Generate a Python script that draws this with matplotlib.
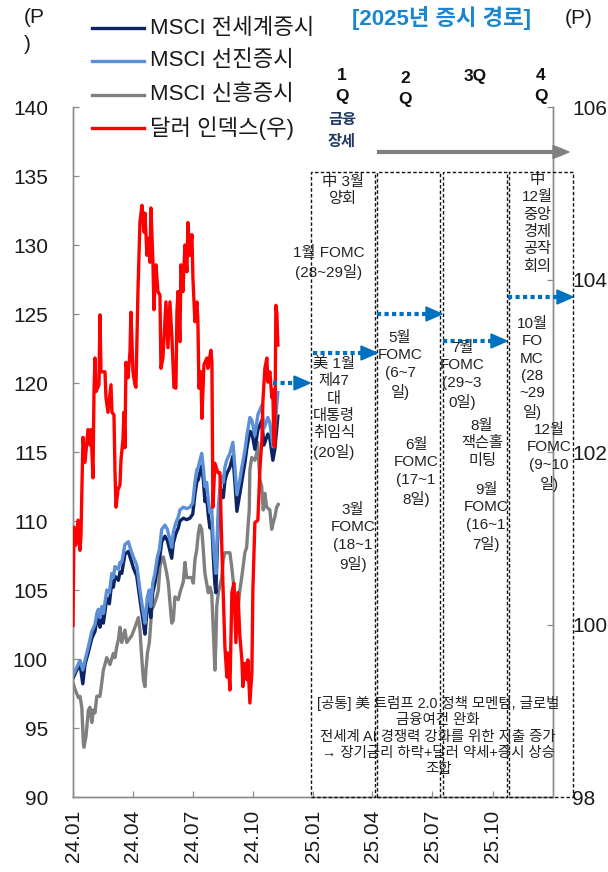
import matplotlib
matplotlib.use("Agg")
import matplotlib.pyplot as plt
from matplotlib.lines import Line2D
from matplotlib.patches import Rectangle, Polygon
import numpy as np
import pandas as pd

plt.rcParams['font.family'] = ['Liberation Sans', 'Noto Sans CJK KR']

# ---------------------------------------------------------------- data
# time axis: months elapsed since 2024-01-01
START = pd.Timestamp('2024-01-01')
END = pd.Timestamp('2026-01-01')

tick_dates = ['2024-01-01', '2024-04-01', '2024-07-01', '2024-10-01',
              '2025-01-01', '2025-04-01', '2025-07-01', '2025-10-01']
tick_labels = ['24.01', '24.04', '24.07', '24.10', '25.01', '25.04', '25.07', '25.10']

left_ticks = [90, 95, 100, 105, 110, 115, 120, 125, 130, 135, 140]
right_ticks = [98, 100, 102, 104, 106]

# MSCI developed / all-country share one time grid
msci_t = [0.00, 0.19, 0.35, 0.49, 0.60, 0.77, 0.94, 1.10, 1.19, 1.27, 1.35, 1.44, 1.52,
          1.69, 1.82, 1.94, 2.02, 2.10, 2.27, 2.35, 2.44, 2.60, 2.77, 2.85, 2.94, 3.02,
          3.19, 3.35, 3.52, 3.60, 3.72, 3.82, 3.89, 3.99, 4.10, 4.22, 4.32, 4.44, 4.60,
          4.72, 4.82, 4.94, 5.02, 5.15, 5.27, 5.35, 5.52, 5.69, 5.85, 5.99, 6.10, 6.19,
          6.27, 6.35, 6.44, 6.52, 6.60, 6.69, 6.77, 6.85, 6.94, 7.02, 7.10, 7.15, 7.19,
          7.27, 7.35, 7.44, 7.52, 7.60, 7.69, 7.85, 8.00, 8.10, 8.20, 8.35, 8.45, 8.60,
          8.70, 8.85, 8.95, 9.10, 9.25, 9.45, 9.55, 9.75, 9.85, 10.00, 10.10, 10.25]

msci_dev = [98.8, 99.4, 99.9, 99.2, 99.9, 100.9, 102.0, 102.5, 103.3, 103.6, 103.0, 103.8, 103.3,
            105.0, 104.8, 106.2, 105.9, 106.7, 106.5, 107.0, 107.0, 108.3, 108.5, 108.1, 107.7, 107.4,
            106.8, 105.0, 103.3, 102.6, 104.5, 105.0, 103.8, 105.5, 106.2, 107.4, 107.9, 109.4, 109.7,
            109.4, 108.8, 108.1, 109.2, 109.9, 110.3, 110.8, 111.0, 110.9, 111.0, 111.3, 112.8, 113.7,
            113.9, 114.4, 114.9, 113.9, 112.5, 112.8, 111.5, 110.6, 110.9, 108.4, 107.0, 106.2, 107.9,
            111.0, 112.3, 113.2, 112.8, 113.9, 114.4, 114.9, 115.7, 113.9, 111.9, 113.0, 113.9, 115.1,
            116.2, 117.5, 117.3, 116.2, 117.7, 118.4, 116.7, 117.5, 117.1, 115.4, 116.7, 119.3]

msci_acwi = [98.6, 99.2, 99.6, 98.2, 99.6, 100.5, 101.5, 102.0, 102.8, 103.0, 102.3, 103.2, 102.6,
             104.4, 104.0, 105.6, 105.2, 106.0, 105.7, 106.3, 106.2, 107.6, 107.8, 107.4, 107.0, 106.6,
             106.0, 104.3, 102.6, 101.8, 103.7, 104.3, 103.0, 104.8, 105.5, 106.6, 107.1, 108.5, 108.9,
             108.6, 108.0, 107.3, 108.4, 109.1, 109.5, 110.0, 110.2, 110.1, 110.2, 110.5, 111.9, 112.8,
             113.0, 113.5, 114.0, 113.0, 111.4, 111.7, 110.4, 109.5, 109.9, 107.4, 105.4, 104.8, 106.8,
             110.0, 111.2, 112.2, 111.7, 112.9, 113.4, 113.9, 114.7, 112.8, 110.7, 112.0, 112.9, 114.2,
             115.3, 116.5, 116.4, 115.2, 116.6, 117.3, 115.5, 116.3, 116.0, 114.4, 115.2, 117.6]

msci_em_t = [0.00, 0.10, 0.27, 0.35, 0.44, 0.52, 0.55, 0.65, 0.77, 0.85, 0.94, 1.02, 1.10,
             1.19, 1.35, 1.44, 1.52, 1.69, 1.85, 2.02, 2.10, 2.19, 2.27, 2.35, 2.44, 2.60,
             2.69, 2.94, 3.10, 3.27, 3.35, 3.44, 3.52, 3.60, 3.65, 3.72, 3.82, 3.94, 4.02,
             4.19, 4.27, 4.35, 4.44, 4.52, 4.69, 4.77, 4.85, 4.94, 5.02, 5.10, 5.27, 5.35,
             5.52, 5.60, 5.69, 5.94, 6.02, 6.10, 6.19, 6.27, 6.35, 6.44, 6.52, 6.60, 6.77,
             6.85, 6.94, 7.02, 7.10, 7.15, 7.19, 7.27, 7.44, 7.52, 7.60, 7.85, 7.94, 8.10,
             8.19, 8.27, 8.35, 8.44, 8.60, 8.69, 8.77, 8.82, 8.85, 8.94, 9.10, 9.19, 9.23,
             9.35, 9.44, 9.52, 9.60, 9.69, 9.85, 9.94, 10.02, 10.10, 10.19, 10.27]

msci_em = [98.3, 97.8, 97.2, 97.3, 96.5, 93.9, 93.6, 94.4, 96.3, 96.5, 95.4, 96.3, 96.1,
           97.3, 97.3, 98.3, 99.2, 100.1, 99.6, 100.4, 100.1, 100.9, 101.4, 102.3, 101.2, 102.1,
           101.2, 101.7, 102.3, 103.0, 102.1, 100.1, 98.5, 98.0, 99.2, 100.4, 101.2, 103.6, 103.8,
           104.5, 105.0, 106.7, 107.2, 107.4, 106.2, 105.5, 104.1, 102.6, 102.8, 104.5, 104.3, 104.8,
           105.6, 107.0, 105.9, 105.9, 105.5, 107.2, 107.9, 109.1, 109.7, 109.4, 107.9, 106.2, 104.8,
           105.2, 104.8, 102.1, 99.2, 101.2, 103.8, 104.8, 105.9, 107.2, 107.7, 107.7, 106.7, 104.5,
           103.0, 103.8, 105.0, 105.9, 107.7, 108.1, 109.9, 110.8, 113.7, 114.6, 114.4, 114.9, 115.7,
           113.0, 112.5, 110.8, 112.0, 111.0, 110.8, 109.4, 109.9, 110.3, 111.0, 111.2]

dollar_t = [0.00, 0.05, 0.15, 0.25, 0.35, 0.40, 0.45, 0.50, 0.60, 0.75, 0.85, 0.90, 1.00,
            1.05, 1.10, 1.15, 1.30, 1.35, 1.40, 1.60, 1.65, 1.75, 1.90, 1.95, 2.05, 2.10,
            2.15, 2.25, 2.35, 2.40, 2.50, 2.55, 2.60, 2.65, 2.75, 2.85, 2.90, 3.00, 3.10,
            3.15, 3.25, 3.35, 3.45, 3.55, 3.60, 3.70, 3.80, 3.85, 3.90, 4.00, 4.05, 4.15,
            4.25, 4.35, 4.40, 4.50, 4.65, 4.75, 4.85, 4.95, 5.05, 5.15, 5.20, 5.25, 5.35,
            5.40, 5.50, 5.60, 5.70, 5.75, 5.85, 5.95, 6.00, 6.10, 6.20, 6.25, 6.30, 6.40,
            6.45, 6.55, 6.70, 6.75, 6.90, 6.95, 7.00, 7.10, 7.25, 7.35, 7.45, 7.60, 7.70,
            7.75, 7.85, 7.95, 8.05, 8.15, 8.25, 8.35, 8.45, 8.50, 8.60, 8.70, 8.75, 8.85,
            8.95, 9.00, 9.10, 9.25, 9.35, 9.45, 9.50, 9.60, 9.70, 9.75, 9.85, 9.95, 10.00,
            10.05, 10.10, 10.15, 10.20, 10.25]

dollar_idx = [99.99, 101.13, 100.92, 101.21, 100.86, 101.04, 101.62, 102.17, 101.88, 102.26, 102.08, 102.26, 101.70,
              102.70, 103.09, 102.70, 102.78, 103.59, 102.93, 102.93, 102.63, 102.46, 102.78, 102.46, 102.43, 101.79,
              101.36, 101.56, 101.62, 101.91, 102.14, 102.46, 102.05, 103.04, 102.86, 103.16, 103.62, 102.93, 102.78,
              102.75, 103.86, 104.67, 104.86, 104.55, 104.77, 104.28, 104.48, 104.20, 104.83, 104.20, 103.65, 104.17,
              103.86, 103.82, 102.97, 103.09, 103.74, 103.21, 103.74, 103.32, 102.75, 102.74, 103.62, 103.86, 103.28,
              104.17, 103.86, 104.40, 104.09, 104.66, 104.28, 104.52, 104.02, 103.51, 103.74, 103.51, 102.74, 102.93,
              102.39, 103.01, 103.09, 102.97, 103.18, 103.04, 101.36, 101.87, 101.76, 101.76, 100.86, 99.74, 99.39,
              99.67, 99.24, 100.37, 100.48, 99.79, 100.37, 99.86, 99.59, 99.28, 99.55, 99.36, 99.59, 99.09,
              99.44, 100.40, 101.18, 101.21, 101.79, 102.14, 102.58, 102.97, 103.09, 102.81, 102.93, 102.63, 102.72,
              102.08, 102.06, 103.70, 103.61, 103.24]

series_names = ['MSCI 전세계증시', 'MSCI 선진증시', 'MSCI 신흥증시', '달러 인덱스(우)']
series_colors = ['#0d2463', '#5b8fd8', '#7f7f7f', '#ff0000']

quarter_labels = ['1\nQ', '2\nQ', '3Q', '4\nQ']
regime_label = '금융\n장세'
chart_title = '[2025년 증시 경로]'

q1_notes = ['中 3월\n양회', '1월 FOMC\n(28~29일)', '美 1월\n제47\n대\n대통령\n취임식\n(20일)',
            '3월\nFOMC\n(18~1\n9일)']
q2_notes = ['5월\nFOMC\n(6~7\n일)', '6월\nFOMC\n(17~1\n8일)']
q3_notes = ['7월\nFOMC\n(29~3\n0일)', '8월\n잭슨홀\n미팅', '9월\nFOMC\n(16~1\n7일)']
q4_notes = ['中\n12월\n중앙\n경제\n공작\n회의', '10월\nFO\nMC\n(28\n~29\n일)', '12월\nFOMC\n(9~10\n일)']
common_note = ('[공통] 美 트럼프 2.0 정책 모멘텀, 글로벌\n금융여건 완화\n'
               '전세계 AI 경쟁력 강화를 위한 지출 증가\n'
               '→ 장기금리 하락+달러 약세+증시 상승\n조합')


def to_dates(months):
    return START + pd.to_timedelta(np.asarray(months) * 30.4375, unit='D')


# ---------------------------------------------------------------- figure
W, H = 608, 872
fig = plt.figure(figsize=(W / 100, H / 100), dpi=100)
ax = fig.add_axes([73 / W, 75 / H, 480 / W, 690 / H])
ax2 = ax.twinx()

ax.plot(to_dates(msci_em_t), msci_em, color=series_colors[2], lw=2.4, zorder=2)
ax.plot(to_dates(msci_t), msci_acwi, color=series_colors[0], lw=2.4, zorder=3)
ax.plot(to_dates(msci_t), msci_dev, color=series_colors[1], lw=2.4, zorder=4)
ax2.plot(to_dates(dollar_t), dollar_idx, color=series_colors[3], lw=2.4, zorder=5)

ax.set_xlim(START, END)
ax.set_ylim(left_ticks[0], left_ticks[-1])
ax2.set_ylim(right_ticks[0], right_ticks[-1])
ax.set_yticks(left_ticks)
ax2.set_yticks(right_ticks)
ax.set_xticks(pd.to_datetime(tick_dates))
ax.set_xticklabels(tick_labels, rotation=90)

spine_c = '#8c8c8c'
for a in (ax, ax2):
    a.spines['top'].set_visible(False)
    for s in ('left', 'right', 'bottom'):
        a.spines[s].set_color(spine_c)
        a.spines[s].set_linewidth(1.0)
ax.tick_params(axis='y', direction='in', length=4.5, width=0.9, color=spine_c,
               labelsize=15, pad=18, labelcolor='#1a1a1a')
ax.tick_params(axis='x', direction='in', length=4.5, width=0.9, color=spine_c,
               labelsize=15, pad=9, labelcolor='#1a1a1a')
ax2.tick_params(axis='y', direction='in', length=4.5, width=0.9, color=spine_c,
                labelsize=15, pad=14, labelcolor='#1a1a1a')

T = ax2.transAxes


def fx(px):
    return (px - 73) / 480


def fy(py):
    return (797 - py) / 690


# quarter boxes (dashed)
box_edges = [(311, 375), (377, 440), (443, 507), (509, 573)]
for x0, x1 in box_edges:
    ax2.add_patch(Rectangle((fx(x0), 0), fx(x1) - fx(x0), fy(172), transform=T,
                            fill=False, ec='#111111', lw=1.0, ls=(0, (2.5, 1.6)),
                            clip_on=False, zorder=6))

# gray trend arrow
ax2.plot([fx(377), fx(555)], [fy(152), fy(152)], transform=T, color='#808080',
         lw=3.0, solid_capstyle='butt', clip_on=False, zorder=7)
ax2.add_patch(Polygon([(fx(569), fy(152)), (fx(553), fy(145.5)), (fx(553), fy(158.5))],
                      closed=True, transform=T, color='#808080', clip_on=False, zorder=7))

# blue dotted path arrows
blue = '#0070c0'
arrow_rows = [(273, 310, 383), (313, 377, 353), (377, 442, 314), (443, 507, 341), (508, 573, 297)]
for xa, xb, yy in arrow_rows:
    ax2.plot([fx(xa), fx(xb - 15)], [fy(yy), fy(yy)], transform=T, color=blue, lw=3.0,
             ls=(0, (1, 0.8)), dash_capstyle='butt', clip_on=False, zorder=8)
    ax2.add_patch(Polygon([(fx(xb), fy(yy)), (fx(xb - 16), fy(yy - 7)), (fx(xb - 16), fy(yy + 7))],
                          closed=True, transform=T, color=blue, clip_on=False, zorder=8))

# quarter headers
q_pos = [(342, 86), (405, 89), (475, 76), (541, 86)]
for lab, (px, py) in zip(quarter_labels, q_pos):
    ax2.text(fx(px), fy(py), lab, transform=T, ha='center', va='center', fontsize=12.5,
             fontweight='bold', linespacing=1.45, color='#111111', clip_on=False)
ax2.text(fx(342), fy(131), regime_label, transform=T, ha='center', va='center', fontsize=11,
         fontweight='bold', linespacing=1.65, color='#1f3864', clip_on=False)

# event notes
note_fs = 11
note_ls = 1.3
note_pos = [(q1_notes, [(343, 175), (329, 246), (334, 357), (353, 503)]),
            (q2_notes, [(400, 331), (416, 438)]),
            (q3_notes, [(462, 341), (482, 419), (486, 483)]),
            (q4_notes, [(537, 173), (532, 317), (549, 423)])]
for notes, positions in note_pos:
    for txt, (px, py) in zip(notes, positions):
        ax2.text(fx(px), fy(py), txt, transform=T, ha='center', va='top', fontsize=note_fs,
                 linespacing=note_ls, color='#222222', multialignment='center',
                 clip_on=False, zorder=9)
ax2.text(fx(438), fy(696), common_note, transform=T, ha='center', va='top', fontsize=10.4,
         linespacing=1.2, color='#222222', multialignment='center', clip_on=False, zorder=9)

# legend
legend_rows = [28, 61, 95, 128]
for name, col, py in zip(series_names, series_colors, legend_rows):
    fig.add_artist(Line2D([92 / W, 144 / W], [1 - py / H, 1 - py / H], color=col, lw=2.4))
    fig.text(150 / W, 1 - py / H, name, ha='left', va='center', fontsize=16, color='#1a1a1a')

# titles and unit marks
fig.text(441 / W, 1 - 18 / H, chart_title, ha='center', va='center', fontsize=16,
         fontweight='bold', color='#1a86d0')
fig.text(24 / W, 1 - 8 / H, '(P\n)', ha='left', va='top', fontsize=15, linespacing=1.5,
         color='#1a1a1a')
fig.text(565 / W, 1 - 18 / H, '(P)', ha='left', va='center', fontsize=15, color='#1a1a1a')

fig.savefig('out.png', dpi=100)
